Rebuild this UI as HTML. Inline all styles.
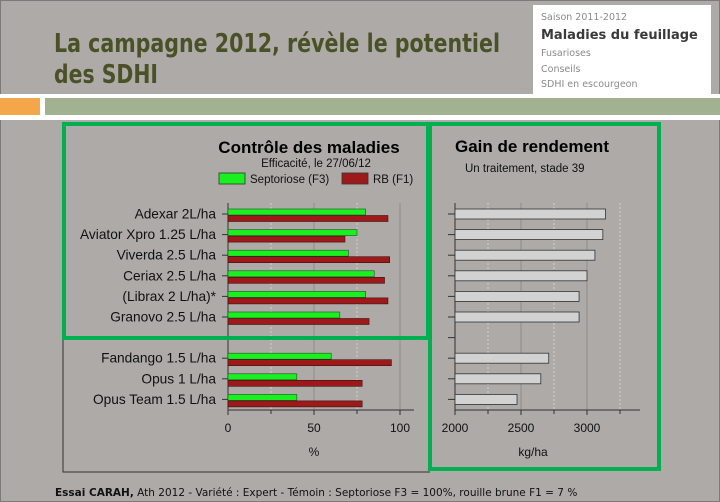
<!DOCTYPE html>
<html><head><meta charset="utf-8"><style>
html,body{margin:0;padding:0;}
body{width:720px;height:502px;overflow:hidden;background:#adaaa7;font-family:"Liberation Sans",sans-serif;position:relative;}
#page{position:absolute;left:0;top:0;width:718px;height:500px;border:1px solid #7a7a7a;}
</style></head><body>
<div id="page"></div>
<svg width="720" height="502" style="position:absolute;left:0;top:0">
  <rect x="0" y="94" width="720" height="26" fill="#ffffff"/>
  <rect x="0" y="98" width="40" height="17" fill="#f3a64a"/>
  <rect x="45" y="98" width="675" height="17" fill="#a2b18f"/>
  <text x="54" y="52" font-family="'Liberation Sans Narrow','DejaVu Sans', sans-serif" font-weight="bold" font-size="26" fill="#4b5127" textLength="446" lengthAdjust="spacingAndGlyphs">La campagne 2012, révèle le  potentiel</text>
  <text x="54" y="83" font-family="'Liberation Sans Narrow','DejaVu Sans', sans-serif" font-weight="bold" font-size="26" fill="#4b5127" textLength="104" lengthAdjust="spacingAndGlyphs">des SDHI</text>
  <rect x="533" y="5" width="178" height="91" fill="#ffffff"/>
  <g font-family="'DejaVu Sans', sans-serif" fill="#8a8a8a">
    <text x="541" y="20" font-size="9.5">Saison 2011-2012</text>
    <text x="541" y="39" font-size="13" font-weight="bold" fill="#3a3a3a">Maladies du feuillage</text>
    <text x="541" y="56" font-size="9.5">Fusarioses</text>
    <text x="541" y="72" font-size="9.5">Conseils</text>
    <text x="541" y="87" font-size="9.5">SDHI en escourgeon</text>
  </g>
  <path d="M63 338 V472 H430" fill="none" stroke="#333" stroke-width="1"/>
  <g id="left"></g>
  <g id="right"></g>
  <rect x="64" y="124" width="364" height="214" fill="none" stroke="#00b050" stroke-width="4"/>
  <rect x="430" y="124" width="229" height="345" fill="none" stroke="#00b050" stroke-width="4"/>
  <text x="55" y="496" font-family="'DejaVu Sans', sans-serif" font-size="10.5" fill="#111"><tspan font-weight="bold">Essai CARAH,</tspan> Ath 2012 - Variété : Expert  - Témoin : Septoriose F3 = 100%, rouille brune F1 = 7 %</text>
</svg>
<script>
const categories=["Adexar 2L/ha","Aviator Xpro 1.25 L/ha","Viverda 2.5 L/ha","Ceriax 2.5 L/ha","(Librax 2 L/ha)*","Granovo 2.5 L/ha","","Fandango 1.5 L/ha","Opus 1 L/ha","Opus Team 1.5 L/ha"];
const septoriose=[80,75,70,85,80,65,null,60,40,40];
const rouilleBrune=[93,68,94,91,93,82,null,95,78,78];
const rendement=[3140,3120,3060,3000,2940,2940,null,2710,2650,2470];
const effTicks=[0,50,100];
const effMinor=[25,75];
const yieldTicks=[2000,2500,3000];
const yieldMinor=[2250,2750,3250];

const NS="http://www.w3.org/2000/svg";
function mk(parent,tag,attrs,text){const e=document.createElementNS(NS,tag);for(const k in attrs)e.setAttribute(k,attrs[k]);if(text!==undefined)e.textContent=text;parent.appendChild(e);return e;}
const yc=i=>214+i*20.6;
const xL=v=>228+v*1.72;
const xR=v=>455+(v-2000)*0.132;
const L=document.getElementById('left'), R=document.getElementById('right');
const axTop=203, axBot=410;

let t;
t=mk(L,'text',{x:309,y:153,'font-size':17,'font-weight':'bold','text-anchor':'middle',fill:'#000'},'Contrôle des maladies');


t=mk(L,'text',{x:316,y:167,'font-size':11.5,'text-anchor':'middle',fill:'#111'},'Efficacité, le 27/06/12');


let lg=mk(L,'g',{});


mk(lg,'rect',{x:219,y:173,width:26,height:11,fill:'#19f020',stroke:'#333','stroke-width':0.8});
mk(lg,'text',{x:250,y:183,'font-size':11.5,fill:'#111'},'Septoriose (F3)');
lg=mk(L,'g',{});


mk(lg,'rect',{x:342,y:173,width:26,height:11,fill:'#9e1a1a',stroke:'#333','stroke-width':0.8});
mk(lg,'text',{x:373,y:183,'font-size':11.5,fill:'#111'},'RB (F1)');

effMinor.forEach(v=>{const l=mk(L,'line',{x1:xL(v),x2:xL(v),y1:axTop,y2:axBot,stroke:'#ddd','stroke-dasharray':'2,2','stroke-width':0.8});

});
effTicks.forEach(v=>{if(v>0){const l=mk(L,'line',{x1:xL(v),x2:xL(v),y1:axTop,y2:axBot,stroke:'#888','stroke-width':0.8});

}
const tl=mk(L,'text',{x:xL(v),y:432,'font-size':12,'text-anchor':'middle',fill:'#111'},String(v));


mk(L,'line',{x1:xL(v),x2:xL(v),y1:axBot,y2:axBot+5,stroke:'#333'});});
effMinor.forEach(v=>mk(L,'line',{x1:xL(v),x2:xL(v),y1:axBot,y2:axBot+4,stroke:'#333'}));
mk(L,'line',{x1:228,x2:228,y1:axTop,y2:axBot,stroke:'#333'});
mk(L,'line',{x1:228,x2:414,y1:axBot,y2:axBot,stroke:'#333'});
t=mk(L,'text',{x:314,y:456,'font-size':12,'text-anchor':'middle',fill:'#111'},'%');



categories.forEach((c,i)=>{
  const y=yc(i);
  mk(L,'line',{x1:222,x2:228,y1:y,y2:y,stroke:'#333'});
  if(c){const tl=mk(L,'text',{x:216,y:y+4.5,'font-size':13.7,'text-anchor':'end',fill:'#111'},c);
  
  }
  if(septoriose[i]!=null){const b=mk(L,'rect',{x:228,y:y-5,width:xL(septoriose[i])-228,height:6,fill:'#19f020',stroke:'#2a4a2a','stroke-width':0.6});
  
  }
  if(rouilleBrune[i]!=null){const b=mk(L,'rect',{x:228,y:y+1.5,width:xL(rouilleBrune[i])-228,height:6,fill:'#9e1a1a',stroke:'#3a1010','stroke-width':0.6});
  
  }
});

t=mk(R,'text',{x:455,y:152,'font-size':17,'font-weight':'bold',fill:'#000'},'Gain de rendement');


t=mk(R,'text',{x:465,y:172,'font-size':11.5,fill:'#111'},'Un traitement, stade 39');


yieldMinor.forEach(v=>{const l=mk(R,'line',{x1:xR(v),x2:xR(v),y1:axTop,y2:axBot,stroke:'#ddd','stroke-dasharray':'2,2','stroke-width':0.8});


mk(R,'line',{x1:xR(v),x2:xR(v),y1:axBot,y2:axBot+4,stroke:'#333'});});
yieldTicks.forEach(v=>{if(v>2000){const l=mk(R,'line',{x1:xR(v),x2:xR(v),y1:axTop,y2:axBot,stroke:'#888','stroke-width':0.8});

}
mk(R,'line',{x1:xR(v),x2:xR(v),y1:axBot,y2:axBot+5,stroke:'#333'});
const tl=mk(R,'text',{x:xR(v),y:432,'font-size':12,'text-anchor':'middle',fill:'#111'},String(v));

});
mk(R,'line',{x1:455,x2:455,y1:axTop,y2:axBot,stroke:'#333'});
mk(R,'line',{x1:455,x2:640,y1:axBot,y2:axBot,stroke:'#333'});
t=mk(R,'text',{x:533,y:456,'font-size':12,'text-anchor':'middle',fill:'#111'},'kg/ha');


rendement.forEach((v,i)=>{
  const y=yc(i);
  mk(R,'line',{x1:448,x2:455,y1:y,y2:y,stroke:'#333'});
  if(v!=null){const b=mk(R,'rect',{x:455,y:y-5,width:xR(v)-455,height:10,fill:'#d2d2d2',stroke:'#333','stroke-width':0.8});
  
  }
});
</script>
</body></html>
